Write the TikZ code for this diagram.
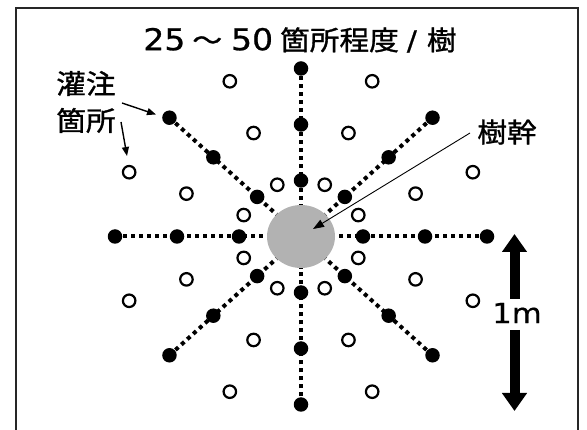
\documentclass[tikz,border=0pt]{standalone}
\usepackage{fontspec}
\setmainfont[FakeStretch=1.1,FakeBold=1.2]{Noto Sans CJK JP}
\newfontfamily\digitfont[FakeStretch=1.1,FakeBold=0.8]{DejaVu Sans}
\newfontfamily\unitfont[FakeStretch=1.1,FakeBold=0.3]{DejaVu Sans}
\usetikzlibrary{shapes.geometric,arrows.meta}
\begin{document}
\begin{tikzpicture}[x=1pt,y=-1pt,
  frame/.style={line width=2pt,draw=black!85},
  bdot/.style={circle,fill=black,minimum size=14.5pt,inner sep=0pt},
  odot/.style={circle,draw=black,line width=2.2pt,fill=white,minimum size=12.5pt,inner sep=0pt},
  trunkshape/.style={ellipse,fill=black!30,minimum width=68pt,minimum height=63pt,inner sep=0pt},
  dotline/.style={line width=4pt,dash pattern=on 4pt off 4pt,black},
  pointer/.style={line width=1.4pt,-{Triangle[length=9pt,width=7pt]}},
  thinpointer/.style={line width=0.9pt,-{Triangle[length=11pt,width=8pt]}},
  bigarrow/.style={line width=10pt,-{Triangle[length=18pt,width=24pt]}},
  lbl/.style={inner sep=0pt,font=\fontsize{27}{37}\selectfont}
]
\useasboundingbox (0,0) rectangle (587,430);
\draw[frame] (16,432) -- (16,8) -- (578,8) -- (578,432);
% positions
\foreach \k in {0,...,7}{
  \foreach \r in {1,2,3}{
    \coordinate (p-\k-\r) at ({301+62*\r*cos(45*\k)},{236.5+56*\r*sin(45*\k)});
    \coordinate (q-\k-\r) at ({301+62*\r*cos(22.5+45*\k)},{236.5+56*\r*sin(22.5+45*\k)});
  }
}
\node[trunkshape] (trunk) at (301,236.5) {};
\foreach \k in {0,...,7}{
  \draw[dotline] (p-\k-3) -- (trunk);
}
\foreach \k in {0,...,7}{
  \foreach \r in {1,2,3}{
    \node[bdot] (b-\k-\r) at (p-\k-\r) {};
    \node[odot] (o-\k-\r) at (q-\k-\r) {};
  }
}
% texts
\node[lbl] (title) at (300,40) {{\digitfont\fontsize{30}{37}\selectfont 25}\hspace{7pt}～\hspace{9pt}{\digitfont\fontsize{30}{37}\selectfont 50}\hspace{7pt}箇所程度\hspace{8pt}{\digitfont /}\hspace{10pt}樹};
\node[lbl,align=left] (kanchu) at (86,102) {灌注\\箇所};
\node[lbl] (jukan) at (507,132) {樹幹};
\node[lbl,font=\fontsize{28}{34}\selectfont] (onem) at (517,313) {\unitfont 1m};
% pointers
\coordinate (a1s) at (122,103);
\coordinate (a1e) at (156,114.5);
\draw[pointer] (a1s) -- (a1e);
\coordinate (a2s) at (121,122);
\coordinate (a2e) at (127,156);
\draw[pointer] (a2s) -- (a2e);
\coordinate (a3s) at (470,133);
\coordinate (a3e) at (313,229);
\draw[thinpointer] (a3s) -- (a3e);
% 1m arrow
\coordinate (m-top) at (514.5,234);
\coordinate (m-upbase) at (514.5,299);
\coordinate (m-lowbase) at (514.5,330);
\coordinate (m-bot) at (514.5,411);
\draw[bigarrow] (m-upbase) -- (m-top);
\draw[bigarrow] (m-lowbase) -- (m-bot);
\end{tikzpicture}
\end{document}
